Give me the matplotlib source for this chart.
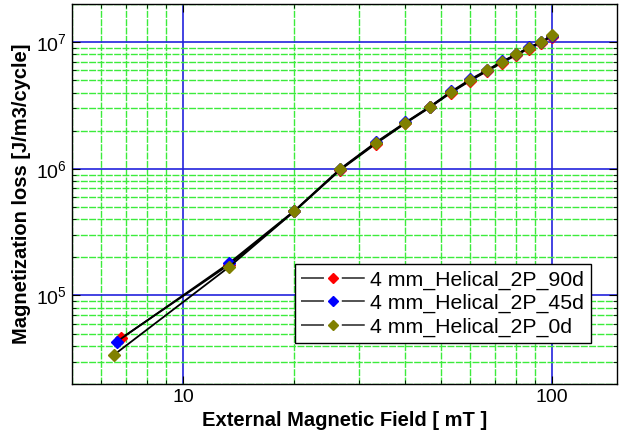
import matplotlib.pyplot as plt
from matplotlib.lines import Line2D
from matplotlib.ticker import LogLocator, NullFormatter

plt.rcParams['font.family'] = ['Liberation Sans', 'DejaVu Sans']
plt.rcParams['mathtext.fontset'] = 'custom'
plt.rcParams['mathtext.rm'] = 'Liberation Sans'
plt.rcParams['mathtext.it'] = 'Liberation Sans:italic'

# 外部磁場 [mT]
field = [6.67, 13.33, 20, 26.67, 33.33, 40, 46.67, 53.33, 60, 66.67, 73.33, 80, 86.67, 93.33, 100]
field_first = {'90d': 6.8, '45d': 6.6, '0d': 6.5}

loss_90d = [4.6e4, 1.75e5, 4.6e5, 9.8e5, 1.58e6, 2.28e6, 3.05e6, 4.0e6, 4.95e6,
            5.9e6, 6.9e6, 7.9e6, 8.9e6, 9.9e6, 1.1e7]
loss_45d = [4.3e4, 1.8e5, 4.65e5, 1.0e6, 1.62e6, 2.32e6, 3.1e6, 4.08e6, 5.08e6,
            6.02e6, 7.05e6, 8.0e6, 9.1e6, 1.0e7, 1.12e7]
loss_0d = [3.4e4, 1.68e5, 4.6e5, 9.9e5, 1.6e6, 2.3e6, 3.08e6, 4.05e6, 5.0e6,
           5.98e6, 7.0e6, 8.0e6, 9.05e6, 1.0e7, 1.13e7]

series = [
    ('4 mm_Helical_2P_90d', '90d', loss_90d, '#ff0000'),
    ('4 mm_Helical_2P_45d', '45d', loss_45d, '#0000ff'),
    ('4 mm_Helical_2P_0d', '0d', loss_0d, '#808000'),
]

fig = plt.figure(figsize=(6.29, 4.41), dpi=100)
ax = fig.add_axes([0.1145, 0.1293, 0.8665, 0.8617])

for label, key, vals, col in series:
    xs = [field_first[key]] + field[1:]
    ax.plot(xs, vals, color='black', lw=1.3, marker='D', ms=6.5,
            mfc=col, mec=col, zorder=3)

ax.set_xscale('log')
ax.set_yscale('log')
ax.set_xlim(5, 150)
ax.set_ylim(2e4, 2e7)

ax.xaxis.set_minor_locator(LogLocator(base=10, subs=range(2, 10), numticks=20))
ax.yaxis.set_minor_locator(LogLocator(base=10, subs=range(2, 10), numticks=20))
ax.xaxis.set_minor_formatter(NullFormatter())
ax.set_xticks([10, 100])
ax.set_xticklabels(['10', '100'])

ax.grid(True, which='minor', color='#3ceb3c', lw=1.0, ls=(0, (5, 1)), zorder=1)
ax.grid(True, which='major', color='#2222dd', lw=1.2, ls='-', zorder=1)

ax.tick_params(which='both', direction='in', top=True, right=True, labelsize=14)
ax.tick_params(which='major', length=6)
ax.tick_params(which='minor', length=3)
for s in ax.spines.values():
    s.set_linewidth(1.0)

ax.set_xlabel('External Magnetic Field [ mT ]', fontsize=14.5, fontweight='bold', labelpad=4)
ax.set_ylabel('Magnetization loss [J/m3/cycle]', fontsize=14.5, fontweight='bold', labelpad=4)

# 凡例: 線はマーカーの所で切れる
fs = 15.3
hl = 3.0
L = hl * fs
lw_leg = 1.3
d = 0.36 * L / lw_leg
g = 0.28 * L / lw_leg
handles = [Line2D([], [], color='#444444', lw=lw_leg, ls=(0, (d, g)),
                  marker='D', ms=5, mfc=col, mec=col)
           for _, _, _, col in series]
labels = [s[0] for s in series]
leg = ax.legend(handles, labels, loc='lower left', bbox_to_anchor=(0.409, 0.108), fontsize=fs,
                frameon=True, fancybox=False, edgecolor='black', framealpha=1,
                handlelength=hl, handletextpad=0.25, borderpad=0.3, labelspacing=0.2,
                borderaxespad=0)
leg.get_frame().set_linewidth(1.0)
leg.set_zorder(5)

fig.savefig('out.png', dpi=100)
